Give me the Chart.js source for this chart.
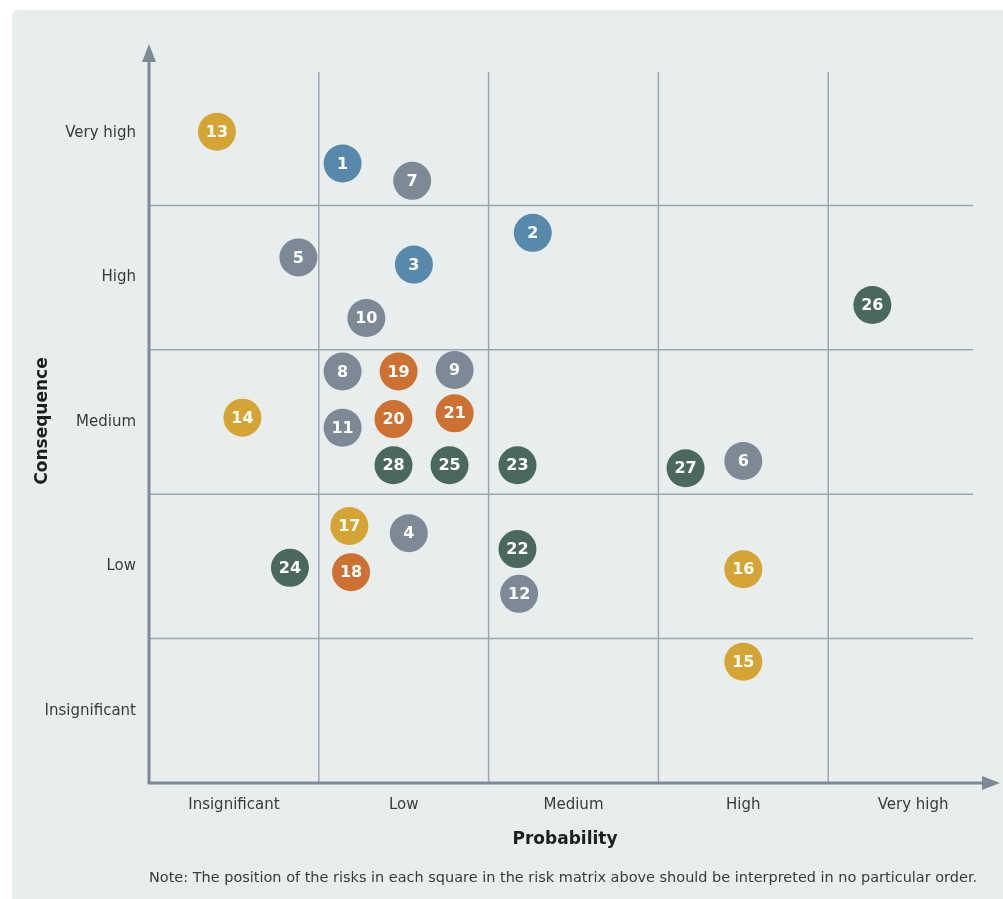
<!DOCTYPE html>
<html>
<head>
<meta charset="utf-8">
<script src="https://cdn.jsdelivr.net/npm/chart.js@4.4.0/dist/chart.umd.min.js"></script>
<style>
  body { margin: 0; background: #ffffff; }
  #panel { position: absolute; left: 12px; top: 10px; width: 991px; height: 889px; background: #e8eeed; border-top-left-radius: 6px; }
  #riskChart { position: absolute; left: 0; top: 0; }
</style>
</head>
<body>
<div id="panel"></div>
<canvas id="riskChart" width="1003" height="899"></canvas>
<script>
const categories = ['Insignificant', 'Low', 'Medium', 'High', 'Very high'];

// risk numbers, probability (x) and consequence (y) on a 0-5 scale
const riskIds     = [13, 1, 7, 2, 5, 3, 26, 10, 8, 19, 9, 14, 11, 20, 21, 28, 25, 23, 27, 6, 17, 4, 22, 24, 18, 16, 12, 15];
const probability = [0.40, 1.14, 1.55, 2.26, 0.88, 1.56, 4.26, 1.28, 1.14, 1.47, 1.80, 0.55, 1.14, 1.44, 1.80, 1.44, 1.77, 2.17, 3.16, 3.50, 1.18, 1.53, 2.17, 0.83, 1.19, 3.50, 2.18, 3.50];
const consequence = [4.51, 4.29, 4.17, 3.81, 3.64, 3.59, 3.31, 3.22, 2.85, 2.85, 2.86, 2.53, 2.46, 2.52, 2.56, 2.20, 2.20, 2.20, 2.18, 2.23, 1.78, 1.73, 1.62, 1.49, 1.46, 1.48, 1.31, 0.84];
const riskGroup   = ['yellow', 'blue', 'gray', 'blue', 'gray', 'blue', 'green', 'gray', 'gray', 'orange', 'gray', 'yellow', 'gray', 'orange', 'orange', 'green', 'green', 'green', 'green', 'gray', 'yellow', 'gray', 'green', 'green', 'orange', 'yellow', 'gray', 'yellow'];

const groupColors = {
    yellow: '#d4a535',
    blue: '#5889aa',
    gray: '#7d8a95',
    orange: '#cd7132',
    green: '#4a685e'
};

const datasets = Object.keys(groupColors).map(function (g) {
    const pts = [], ids = [];
    riskIds.forEach(function (id, i) {
        if (riskGroup[i] === g) {
            pts.push({ x: probability[i], y: consequence[i] });
            ids.push(id);
        }
    });
    return {
        label: g,
        data: pts,
        ids: ids,
        backgroundColor: groupColors[g],
        pointRadius: 19,
        pointHoverRadius: 19,
        borderWidth: 0
    };
});

const axisColor = '#7d8a95';
const gridColor = '#9ba6af';
const textColor = '#3a3a3a';
const fontFamily = '"DejaVu Sans", sans-serif';
const noteText = 'Note: The position of the risks in each square in the risk matrix above should be interpreted in no particular order.';

const matrixPlugin = {
    id: 'matrix',
    beforeDatasetsDraw(chart) {
        const ctx = chart.ctx;
        const xs = chart.scales.x, ys = chart.scales.y;
        const x0 = xs.getPixelForValue(0), y0 = ys.getPixelForValue(0);
        ctx.save();
        ctx.strokeStyle = gridColor;
        ctx.lineWidth = 1.5;
        for (let i = 1; i < 5; i++) {
            const px = xs.getPixelForValue(i);
            ctx.beginPath();
            ctx.moveTo(px, 72);
            ctx.lineTo(px, y0);
            ctx.stroke();
            const py = ys.getPixelForValue(i);
            ctx.beginPath();
            ctx.moveTo(x0, py);
            ctx.lineTo(973, py);
            ctx.stroke();
        }
        // axes with arrows
        ctx.strokeStyle = axisColor;
        ctx.fillStyle = axisColor;
        ctx.lineWidth = 3;
        ctx.beginPath();
        ctx.moveTo(x0, y0 + 1.5);
        ctx.lineTo(x0, 58);
        ctx.moveTo(x0 - 1.5, y0);
        ctx.lineTo(986, y0);
        ctx.stroke();
        ctx.beginPath();
        ctx.moveTo(x0, 44);
        ctx.lineTo(x0 - 7, 62);
        ctx.lineTo(x0 + 7, 62);
        ctx.closePath();
        ctx.fill();
        ctx.beginPath();
        ctx.moveTo(1000, y0);
        ctx.lineTo(982, y0 - 7);
        ctx.lineTo(982, y0 + 7);
        ctx.closePath();
        ctx.fill();
        ctx.restore();
    },
    afterDatasetsDraw(chart) {
        const ctx = chart.ctx;
        ctx.save();
        ctx.fillStyle = '#ffffff';
        ctx.font = 'bold 16px ' + fontFamily;
        ctx.textAlign = 'center';
        ctx.textBaseline = 'middle';
        chart.data.datasets.forEach(function (ds, di) {
            chart.getDatasetMeta(di).data.forEach(function (el, i) {
                ctx.fillText(String(ds.ids[i]), el.x, el.y + 1);
            });
        });
        // axis titles and note
        ctx.fillStyle = '#1e1e1e';
        ctx.font = 'bold 17px ' + fontFamily;
        ctx.fillText('Probability', 565, 840);
        ctx.save();
        ctx.translate(43, 421);
        ctx.rotate(-Math.PI / 2);
        ctx.fillText('Consequence', 0, 0);
        ctx.restore();
        ctx.fillStyle = textColor;
        ctx.font = '14px ' + fontFamily;
        const w = ctx.measureText(noteText).width;
        ctx.font = (14 * 828 / w).toFixed(2) + 'px ' + fontFamily;
        ctx.textAlign = 'left';
        ctx.fillText(noteText, 149, 878);
        ctx.restore();
    }
};

const halfTicks = function (scale) {
    scale.ticks = categories.map(function (c, i) { return { value: i + 0.5 }; });
};

new Chart(document.getElementById('riskChart'), {
    type: 'scatter',
    data: { datasets: datasets },
    options: {
        responsive: false,
        animation: false,
        layout: { autoPadding: false, padding: { top: 61, right: 5, left: 0, bottom: 0 } },
        scales: {
            x: {
                min: 0,
                max: 5,
                grid: { display: false },
                border: { display: false },
                afterBuildTicks: halfTicks,
                afterFit: function (s) {
                    s.height = 116;
                    s.paddingLeft = 0;
                    s.paddingRight = 0;
                },
                ticks: {
                    autoSkip: false,
                    maxRotation: 0,
                    padding: 5,
                    color: textColor,
                    font: { size: 15, family: fontFamily },
                    callback: function (v) { return categories[Math.floor(v)]; }
                }
            },
            y: {
                min: 0,
                max: 5,
                grid: { display: false },
                border: { display: false },
                afterBuildTicks: halfTicks,
                afterFit: function (s) {
                    s.width = 149;
                    s.paddingTop = 0;
                    s.paddingBottom = 0;
                },
                ticks: {
                    autoSkip: false,
                    padding: 5,
                    color: textColor,
                    font: { size: 15, family: fontFamily },
                    callback: function (v) { return categories[Math.floor(v)]; }
                }
            }
        },
        plugins: {
            legend: { display: false },
            tooltip: { enabled: false }
        }
    },
    plugins: [matrixPlugin]
});
</script>
</body>
</html>
